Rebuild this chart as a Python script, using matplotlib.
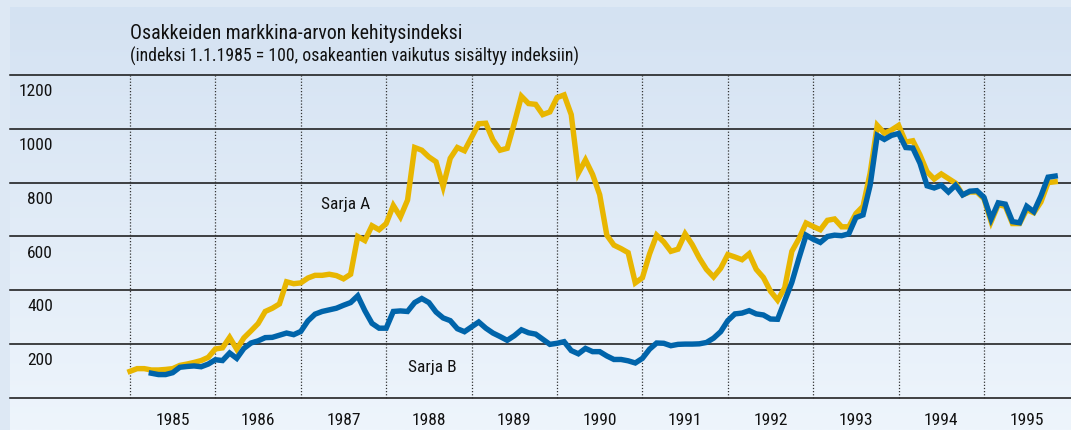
import numpy as np
import matplotlib
matplotlib.use("Agg")
import matplotlib.pyplot as plt
from matplotlib import font_manager

# ---------------- data ----------------
start_year = 1985
years = [1985, 1986, 1987, 1988, 1989, 1990, 1991, 1992, 1993, 1994, 1995]
y_ticks = [200, 400, 600, 800, 1000, 1200]

# monthly index values, Jan 1985 .. Nov 1995
sarja_a = [100, 110, 110, 105, 105, 107, 110, 122, 127, 133, 140, 152,
           183, 187, 226, 182, 224, 250, 277, 322, 334, 350, 432, 425,
           428, 446, 456, 456, 460, 455, 443, 460, 600, 585, 640, 625,
           648, 715, 673, 735, 930, 920, 895, 877, 785, 890, 930, 918,
           968, 1018, 1020, 958, 920, 927, 1020, 1120, 1093, 1090, 1052, 1062,
           1115, 1125, 1052, 835, 884, 830, 755, 605, 568, 555, 540, 428,
           447, 535, 605, 580, 545, 553, 610, 570, 520, 478, 450, 482,
           533, 524, 514, 536, 478, 448, 397, 364, 410, 545, 592, 650,
           637, 625, 660, 665, 636, 636, 685, 712, 835, 1012, 983, 995,
           1012, 950, 955, 903, 840, 813, 832, 815, 798, 755, 765, 765,
           740, 655, 718, 712, 648, 648, 700, 688, 728, 800, 803]

sarja_b = [np.nan, np.nan, np.nan, 93, 88, 88, 95, 115, 118, 120, 117, 127,
           143, 140, 168, 148, 185, 205, 213, 225, 226, 234, 242, 236,
           248, 287, 312, 322, 328, 334, 345, 355, 380, 325, 278, 260,
           260, 322, 324, 322, 355, 370, 355, 320, 298, 288, 258, 247,
           265, 283, 260, 242, 229, 215, 232, 254, 243, 238, 219, 200,
           204, 210, 177, 165, 185, 173, 173, 157, 144, 144, 139, 131,
           148, 182, 205, 204, 195, 200, 201, 201, 202, 207, 223, 247,
           288, 313, 316, 325, 313, 309, 294, 293, 362, 430, 520, 605,
           590, 578, 600, 605, 603, 610, 670, 680, 790, 975, 960, 975,
           982, 930, 928, 872, 788, 780, 790, 765, 790, 754, 768, 770,
           745, 665, 725, 720, 655, 651, 712, 692, 750, 820, 824]

title = "Osakkeiden markkina-arvon kehitysindeksi"
subtitle = "(indeksi 1.1.1985 = 100, osakeantien vaikutus sisältyy indeksiin)"
label_a = "Sarja A"
label_b = "Sarja B"

# ---------------- fonts ----------------
names = {f.name for f in font_manager.fontManager.ttflist}
narrow = None
for cand in ["Liberation Sans Narrow", "Roboto Condensed", "Open Sans Condensed",
             "Noto Sans Condensed", "DejaVu Sans Condensed", "Liberation Sans"]:
    if cand in names:
        narrow = cand
        break
fam = [narrow, "DejaVu Sans"] if narrow else ["DejaVu Sans"]
plt.rcParams["font.family"] = fam

# ---------------- figure ----------------
W, H = 1071, 430
fig = plt.figure(figsize=(W / 100, H / 100), dpi=100)
fig.patch.set_facecolor("#dde8f4")

# gradient inner panel
bg = fig.add_axes([10 / W, 0, 1 - 10 / W, (H - 7) / H])
top_c = np.array([212, 226, 242]) / 255
bot_c = np.array([238, 245, 252]) / 255
t = np.linspace(0, 1, 256)[:, None]
grad = top_c[None, :] * (1 - t) + bot_c[None, :] * t
grad = np.repeat(grad[:, None, :], 2, axis=1)
bg.imshow(grad, aspect="auto", extent=[0, 1, 0, 1], origin="upper")
bg.set_axis_off()
bg.set_zorder(0)

px_per_year = 85.4
x0_px = 130.0
xmin = start_year - (x0_px - 10) / px_per_year
xmax = start_year + (W - x0_px) / px_per_year

ax_bottom = (H - 398.3) / H
ax_top = (H - 74.7) / H
ax = fig.add_axes([10 / W, ax_bottom, 1 - 10 / W, ax_top - ax_bottom])
ax.set_zorder(1)
ax.patch.set_alpha(0)
ax.set_xlim(xmin, xmax)
ax.set_ylim(0, 1200)
for s in ax.spines.values():
    s.set_visible(False)
ax.set_xticks([])
ax.set_yticks([])

# horizontal grid lines
for v in [0] + y_ticks:
    ax.axhline(v, color="#111111", lw=1.1, zorder=2, clip_on=False)

# vertical dotted year lines
for yr in years:
    ax.plot([yr, yr], [0, 1200], color="#333333", lw=0.9, ls=(0, (1, 1.5)),
            zorder=2, clip_on=False)

xm = start_year + np.arange(len(sarja_a)) / 12.0
ax.plot(xm, sarja_a, color="#E8B600", lw=3.9, solid_joinstyle="miter",
        zorder=4, clip_on=False)
ax.plot(xm, sarja_b, color="#0064AA", lw=3.9, solid_joinstyle="miter",
        zorder=5, clip_on=False)

# y tick labels (placed just below their lines)
for v in y_ticks:
    ax.annotate(str(v), xy=(43 / (W - 10), v),
                xycoords=("axes fraction", "data"),
                xytext=(0, -16.5), textcoords="offset pixels",
                ha="right", va="center", fontsize=12.5, color="#111111")

# x year labels, centred in each year
for yr in years:
    ax.annotate(str(yr), xy=(yr + 0.5, 0), xycoords="data",
                xytext=(0, -22), textcoords="offset pixels",
                ha="center", va="center", fontsize=12.5, color="#111111",
                annotation_clip=False)

ax.text(start_year + (320.7 - x0_px) / px_per_year, 717, label_a,
        ha="left", va="center", fontsize=12.5, color="#111111", zorder=6)
ax.text(start_year + (408 - x0_px) / px_per_year, 113, label_b,
        ha="left", va="center", fontsize=12.5, color="#111111", zorder=6)

fig.text(130 / W, (H - 39.3) / H, title, ha="left", va="baseline",
         fontsize=14.3, color="#111111")
fig.text(130 / W, (H - 61.7) / H, subtitle, ha="left", va="baseline",
         fontsize=12.8, color="#111111")

fig.savefig("out.png", dpi=100, facecolor=fig.get_facecolor())
